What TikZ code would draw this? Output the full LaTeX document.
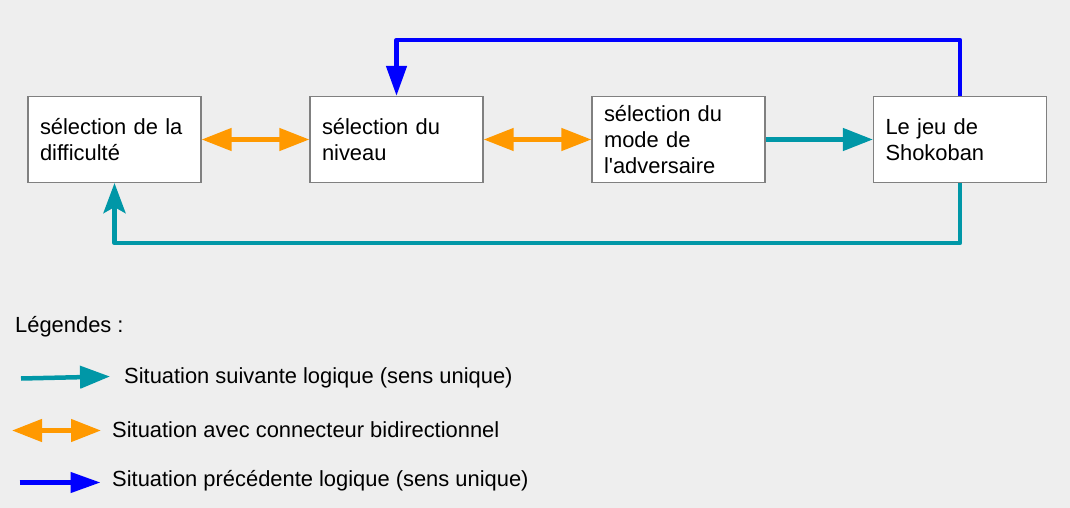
\documentclass[tikz,border=0pt]{standalone}
\usepackage{fontspec}
\setmainfont{Liberation Sans}[Ligatures=TeXOff]
\usetikzlibrary{arrows.meta}
\definecolor{bgc}{HTML}{EEEEEE}
\definecolor{tealc}{HTML}{0097A7}
\definecolor{orangec}{HTML}{FF9900}
\definecolor{bluec}{HTML}{0000FF}
\definecolor{bordc}{HTML}{808080}
\tikzset{
  box/.style={draw=bordc, line width=1.2pt, fill=white, text width=149pt, align=left,
    inner xsep=12pt, inner ysep=0pt, minimum height=86pt, minimum width=173pt,
    font=\fontsize{21.9}{26}\selectfont},
  lbl/.style={anchor=west, inner sep=0pt, font=\fontsize{21.9}{26}\selectfont},
  tarrow/.style={draw=tealc, line width=4.5pt, line join=round, -{Triangle[length=30pt,width=22pt]}},
  tarrowS/.style={draw=tealc, line width=4.5pt, line join=round, -{Stealth[length=30pt,width=22pt,inset=6pt]}},
  oarrow/.style={draw=orangec, line width=4.5pt, {Triangle[length=30pt,width=22pt]}-{Triangle[length=30pt,width=22pt]}},
  barrow/.style={draw=bluec, line width=4.5pt, line join=round, -{Triangle[length=30pt,width=20pt]}},
}
\begin{document}
\begin{tikzpicture}[x=1pt,y=-1pt]
\useasboundingbox[fill=bgc] (0,0) rectangle (1070,508);
\node[box] (b1) at (114.5,139.5) {sélection de la\\difficulté};
\node[box] (b2) at (396.5,139.5) {sélection du\\niveau};
\node[box] (b3) at (678.5,139.5) {sélection du\\mode de\\l'adversaire};
\node[box] (b4) at (960,139.5) {Le jeu de\\Shokoban};
\draw[oarrow] (b1.east) -- (b2.west);
\draw[oarrow] (b2.east) -- (b3.west);
\draw[tarrow] (b3.east) -- (b4.west);
\draw[tarrowS] (b4.south) -- ++(0,60) -| (b1.south);
\draw[barrow] (b4.north) -- ++(0,-56) -| (b2.north);
% legend
\node[lbl] (leg) at (15,327) {Légendes :};
\coordinate (t1) at (21,378.5);
\coordinate (t2) at (110,376.5);
\draw[tarrow] (t1) -- (t2);
\node[lbl] (lt) at (124,378) {Situation suivante logique (sens unique)};
\coordinate (o1) at (12,430.5);
\coordinate (o2) at (101,430.5);
\draw[oarrow] (o1) -- (o2);
\node[lbl] (lo) at (112,429.5) {Situation avec connecteur bidirectionnel};
\coordinate (u1) at (19.5,482.5);
\coordinate (u2) at (100.5,482.5);
\draw[barrow] (u1) -- (u2);
\node[lbl] (lb) at (112,481) {Situation précédente logique (sens unique)};
\end{tikzpicture}
\end{document}
